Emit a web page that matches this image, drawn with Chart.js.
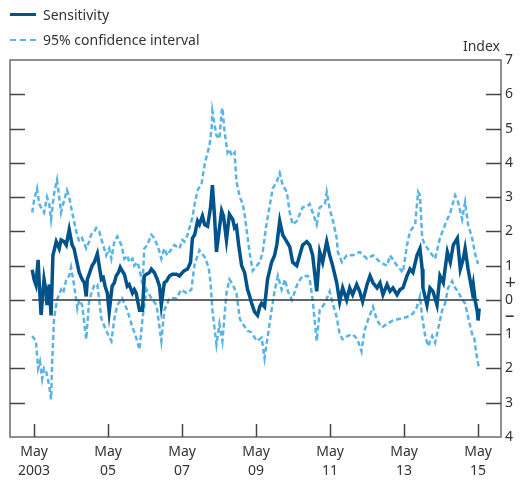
<!DOCTYPE html>
<html>
<head>
<meta charset="utf-8">
<script src="https://cdn.jsdelivr.net/npm/chart.js@4.4.1/dist/chart.umd.min.js"></script>
<style>
    body { margin: 0; background: #ffffff; }
    #wrap { position: relative; width: 520px; height: 480px; font-family: "Noto Sans", sans-serif; color: #333333; }
    .key { position: absolute; left: 10px; font-size: 14px; line-height: 18px; }
    .key span { display: inline-block; width: 26px; vertical-align: middle; margin-right: 7px; margin-top: -3px; }
    .solid { border-top: 3px solid #00538a; }
    .dash { border-top: 2px dashed #58b3e6; }
    #index { position: absolute; right: 20px; top: 36px; font-size: 14px; }
</style>
</head>
<body>
<div id="wrap">
    <canvas id="chart" width="520" height="480"></canvas>
    <div class="key" style="top:6px"><span class="solid"></span>Sensitivity</div>
    <div class="key" style="top:31px"><span class="dash"></span>95% confidence interval</div>
    <div id="index">Index</div>
</div>
<script>
// dates are decimal years, values are index points
const sensDates = [
    2003.28, 2003.33, 2003.38, 2003.44, 2003.47, 2003.52, 2003.60, 2003.66, 2003.68, 2003.74,
    2003.79, 2003.84, 2003.93, 2004.01, 2004.06, 2004.14, 2004.20, 2004.28, 2004.36, 2004.41,
    2004.47, 2004.55, 2004.63, 2004.69, 2004.74, 2004.77, 2004.82, 2004.90, 2004.96, 2005.04,
    2005.09, 2005.15, 2005.20, 2005.25, 2005.31, 2005.36, 2005.44, 2005.50, 2005.55, 2005.61,
    2005.66, 2005.71, 2005.77, 2005.85, 2005.90, 2005.99, 2006.04, 2006.09, 2006.18, 2006.26,
    2006.31, 2006.37, 2006.45, 2006.50, 2006.58, 2006.66, 2006.72, 2006.77, 2006.85, 2006.91,
    2006.99, 2007.07, 2007.18, 2007.26, 2007.34, 2007.39, 2007.48, 2007.56, 2007.61, 2007.67,
    2007.75, 2007.80, 2007.88, 2007.94, 2008.02, 2008.10, 2008.15, 2008.21, 2008.26, 2008.34,
    2008.40, 2008.45, 2008.53, 2008.61, 2008.70, 2008.75, 2008.80, 2008.86, 2008.94, 2009.02,
    2009.10, 2009.16, 2009.21, 2009.29, 2009.37, 2009.43, 2009.48, 2009.56, 2009.64, 2009.75,
    2009.83, 2009.89, 2009.97, 2010.05, 2010.16, 2010.24, 2010.32, 2010.43, 2010.51, 2010.59,
    2010.70, 2010.78, 2010.86, 2010.97, 2011.05, 2011.13, 2011.24, 2011.32, 2011.40, 2011.51,
    2011.59, 2011.67, 2011.78, 2011.86, 2011.94, 2012.05, 2012.13, 2012.21, 2012.33, 2012.41,
    2012.49, 2012.60, 2012.68, 2012.76, 2012.87, 2012.95, 2013.03, 2013.14, 2013.22, 2013.30,
    2013.41, 2013.49, 2013.57, 2013.68, 2013.76, 2013.82, 2013.84, 2013.95, 2014.03, 2014.11,
    2014.22, 2014.30, 2014.39, 2014.50, 2014.58, 2014.66, 2014.77, 2014.85, 2014.93, 2014.98,
    2015.06, 2015.17, 2015.20, 2015.25, 2015.31, 2015.33, 2015.36
];
const sensValues = [
    0.88, 0.6, 0.44, 1.17, 0.5, -0.44, 0.6, 0.2, -0.15, 0.45,
    -0.45, 1.3, 1.7, 1.5, 1.75, 1.7, 1.6, 2.05, 1.6, 1.5,
    1.2, 0.8, 0.6, 0.5, 0.1, 0.6, 0.75, 1.0, 1.1, 1.35,
    1.0, 0.6, 0.65, 0.4, 0.2, -0.35, 0.4, 0.5, 0.7, 0.8,
    0.95, 0.85, 0.75, 0.4, 0.45, 0.2, 0.3, 0.2, -0.3, -0.3,
    0.7, 0.75, 0.8, 0.9, 0.8, 0.6, 0.4, -0.15, 0.5, 0.55,
    0.7, 0.75, 0.75, 0.7, 0.8, 0.85, 0.9, 1.1, 1.8, 1.9,
    2.3, 2.2, 2.45, 2.2, 2.15, 2.7, 3.35, 2.4, 1.4, 2.1,
    2.6, 2.45, 1.75, 2.5, 2.35, 2.1, 2.15, 1.6, 1.0, 0.8,
    0.3, 0.1, -0.1, -0.35, -0.45, -0.2, -0.1, -0.2, 0.6, 1.1,
    1.3, 1.6, 2.3, 1.9, 1.7, 1.55, 1.1, 1.0, 1.3, 1.6,
    1.7, 1.6, 1.3, 0.25, 1.4, 1.1, 1.7, 1.3, 1.0, 0.5,
    -0.05, 0.35, 0.0, 0.35, 0.15, 0.45, 0.25, -0.05, 0.45, 0.7,
    0.5, 0.35, 0.5, 0.15, 0.45, 0.25, 0.35, 0.15, 0.3, 0.35,
    0.7, 0.9, 0.8, 1.3, 1.5, 0.9, 0.35, -0.15, 0.35, 0.25,
    -0.15, 0.7, 0.5, 1.4, 1.1, 1.6, 1.8, 0.9, 1.2, 1.5,
    0.9, 0.25, 0.45, 0.0, -0.35, -0.6, -0.25
];

const upperDates = [
    2003.28, 2003.33, 2003.41, 2003.47, 2003.52, 2003.60, 2003.68, 2003.74, 2003.79, 2003.87,
    2003.95, 2004.01, 2004.06, 2004.14, 2004.22, 2004.28, 2004.36, 2004.47, 2004.55, 2004.63,
    2004.74, 2004.82, 2004.87, 2004.96, 2005.01, 2005.09, 2005.17, 2005.28, 2005.36, 2005.42,
    2005.50, 2005.58, 2005.69, 2005.77, 2005.85, 2005.90, 2005.99, 2006.04, 2006.12, 2006.18,
    2006.26, 2006.31, 2006.39, 2006.50, 2006.58, 2006.66, 2006.72, 2006.77, 2006.85, 2006.93,
    2006.99, 2007.12, 2007.26, 2007.34, 2007.39, 2007.48, 2007.53, 2007.61, 2007.67, 2007.75,
    2007.86, 2007.94, 2008.02, 2008.07, 2008.13, 2008.15, 2008.21, 2008.26, 2008.34, 2008.40,
    2008.42, 2008.48, 2008.56, 2008.61, 2008.67, 2008.75, 2008.80, 2008.89, 2008.97, 2009.02,
    2009.08, 2009.16, 2009.24, 2009.35, 2009.43, 2009.51, 2009.61, 2009.70, 2009.78, 2009.89,
    2009.97, 2010.05, 2010.16, 2010.24, 2010.32, 2010.43, 2010.51, 2010.59, 2010.73, 2010.78,
    2010.86, 2010.97, 2011.05, 2011.19, 2011.24, 2011.32, 2011.40, 2011.51, 2011.54, 2011.65,
    2011.78, 2011.94, 2012.13, 2012.33, 2012.49, 2012.68, 2012.87, 2012.95, 2013.14, 2013.30,
    2013.41, 2013.49, 2013.63, 2013.71, 2013.76, 2013.82, 2013.90, 2014.03, 2014.17, 2014.30,
    2014.44, 2014.58, 2014.71, 2014.79, 2014.90, 2014.98, 2015.06, 2015.17, 2015.25, 2015.33
];
const upperValues = [
    2.55, 2.9, 3.25, 2.8, 2.7, 2.55, 3.0, 2.8, 2.35, 3.1,
    3.5, 3.0, 2.55, 2.9, 3.2, 3.0, 2.55, 2.0, 1.7, 1.8,
    1.5, 1.7, 1.9, 2.0, 2.1, 2.0, 1.7, 1.3, 1.5, 1.2,
    1.7, 1.85, 1.6, 1.2, 1.3, 1.1, 1.2, 1.0, 1.1, 0.9,
    0.45, 1.5, 1.6, 1.9, 1.8, 1.6, 1.4, 1.2, 1.5, 1.3,
    1.4, 1.6, 1.5, 1.75, 1.7, 1.9, 2.1, 2.4, 2.8, 3.2,
    3.4, 3.95, 4.3, 4.5, 5.0, 5.5, 5.1, 4.8, 4.7, 5.5,
    5.6, 4.9, 4.3, 4.4, 4.2, 4.3, 3.45, 3.0, 2.8, 2.5,
    2.0, 1.35, 0.85, 1.0, 1.1, 1.4, 2.2, 2.75, 3.25, 3.45,
    3.7, 3.35, 3.15, 2.55, 2.2, 2.3, 2.5, 2.7, 2.75, 2.8,
    2.55, 2.2, 2.7, 2.8, 3.15, 2.65, 2.35, 1.8, 1.4, 1.1,
    1.3, 1.3, 1.4, 1.2, 1.3, 1.1, 1.0, 1.3, 1.0, 0.8,
    1.6, 2.0, 2.2, 3.15, 3.05, 1.8, 1.6, 1.4, 1.2, 1.8,
    2.2, 2.55, 3.05, 2.85, 2.35, 2.85, 2.2, 1.8, 1.35, 1.05
];

const lowerDates = [
    2003.28, 2003.38, 2003.44, 2003.49, 2003.55, 2003.60, 2003.66, 2003.74, 2003.79, 2003.82,
    2003.87, 2003.95, 2004.06, 2004.12, 2004.20, 2004.28, 2004.33, 2004.41, 2004.50, 2004.55,
    2004.63, 2004.74, 2004.82, 2004.96, 2005.04, 2005.15, 2005.28, 2005.42, 2005.50, 2005.58,
    2005.71, 2005.85, 2005.99, 2006.09, 2006.18, 2006.26, 2006.37, 2006.50, 2006.64, 2006.77,
    2006.85, 2006.99, 2007.18, 2007.31, 2007.45, 2007.58, 2007.67, 2007.80, 2007.94, 2008.05,
    2008.10, 2008.15, 2008.26, 2008.34, 2008.42, 2008.53, 2008.61, 2008.70, 2008.80, 2008.89,
    2008.97, 2009.10, 2009.21, 2009.35, 2009.48, 2009.56, 2009.64, 2009.75, 2009.83, 2009.92,
    2010.02, 2010.11, 2010.19, 2010.30, 2010.38, 2010.46, 2010.59, 2010.73, 2010.78, 2010.86,
    2010.97, 2011.05, 2011.19, 2011.32, 2011.40, 2011.51, 2011.59, 2011.67, 2011.81, 2011.94,
    2012.07, 2012.18, 2012.26, 2012.35, 2012.49, 2012.60, 2012.73, 2012.87, 2013.03, 2013.22,
    2013.41, 2013.57, 2013.68, 2013.76, 2013.82, 2013.90, 2013.98, 2014.09, 2014.17, 2014.25,
    2014.36, 2014.44, 2014.52, 2014.63, 2014.71, 2014.79, 2014.90, 2014.98, 2015.06, 2015.17,
    2015.22, 2015.28, 2015.33, 2015.36
];
const lowerValues = [
    -1.05, -1.2, -2.0, -1.8, -2.3, -2.0, -2.1, -2.5, -2.9, -1.8,
    -0.55, 0.0, 0.3, 0.2, 0.6, 0.7, 0.95, 0.45, -0.25, 0.0,
    -0.15, -1.15, 0.0, 0.45, 0.45, -0.55, -0.9, -1.2, -0.55, -0.15,
    0.05, -0.3, -0.8, -1.1, -1.45, -0.55, 0.3, 0.05, -0.15, -1.2,
    -0.3, 0.05, 0.05, 0.3, 0.2, 0.3, 1.05, 1.45, 1.25, 0.95,
    0.5, -0.3, -1.3, -0.7, -1.2, 0.2, 0.6, 0.45, 0.2, -0.55,
    -0.7, -0.9, -0.95, -1.2, -1.1, -1.7, -1.1, -0.3, 0.25, 0.7,
    0.3, 0.6, 0.25, 0.0, 0.25, 0.5, 0.7, 0.7, 0.6, 0.0,
    -1.2, -0.3, -0.1, 0.25, -0.1, -0.5, -1.0, -1.15, -1.05, -1.0,
    -1.15, -1.5, -0.9, -0.6, -0.2, -0.6, -0.8, -0.7, -0.6, -0.55,
    -0.5, -0.4, -0.2, 0.1, -0.5, -1.05, -1.35, -1.05, -1.25, -0.85,
    -0.3, -0.1, 0.35, 0.55, 0.35, 0.25, 0.0, -0.1, -0.5, -1.0,
    -1.05, -1.55, -1.85, -2.0
];

const xTicks = [2003.33, 2005.33, 2007.33, 2009.33, 2011.33, 2013.33, 2015.33];
const yTicks = [-4, -3, -2, -1, 0, 1, 2, 3, 4, 5, 6, 7];
const PLUS_AT = 0.47;
const MINUS_AT = -0.5;

const DARK_BLUE = "#00538a";
const LIGHT_BLUE = "#58b3e6";
const INK = "#333333";
const FRAME = "#6b6b6b";

function toPoints(dates, values) {
    return dates.map((d, i) => ({ x: d, y: values[i] }));
}

// frame and inward tick marks
const framePlugin = {
    id: "frame",
    afterDraw(chart) {
        const ctx = chart.ctx;
        const a = chart.chartArea;
        const xs = chart.scales.x;
        const ys = chart.scales.y;
        ctx.save();
        ctx.strokeStyle = FRAME;
        ctx.lineWidth = 1.5;
        ctx.strokeRect(a.left, a.top, a.right - a.left, a.bottom - a.top);
        ctx.strokeStyle = "#444444";
        ctx.beginPath();
        for (let v = -3; v <= 6; v++) {
            const y = Math.round(ys.getPixelForValue(v)) + 0.5;
            ctx.moveTo(a.left, y);
            ctx.lineTo(a.left + 15, y);
            ctx.moveTo(a.right, y);
            ctx.lineTo(a.right - 15, y);
        }
        xTicks.forEach((t) => {
            const x = Math.round(xs.getPixelForValue(t)) + 0.5;
            ctx.moveTo(x, a.bottom);
            ctx.lineTo(x, a.bottom - 13);
        });
        ctx.stroke();
        ctx.restore();
    },
};

const ctx = document.getElementById("chart");
new Chart(ctx, {
    type: "line",
    data: {
        datasets: [
            {
                label: "Sensitivity",
                data: toPoints(sensDates, sensValues),
                borderColor: DARK_BLUE,
                borderWidth: 3.5,
                pointRadius: 0,
                order: 0,
            },
            {
                label: "zero",
                data: [
                    { x: sensDates[0], y: 0 },
                    { x: sensDates[sensDates.length - 1], y: 0 },
                ],
                borderColor: INK,
                borderWidth: 1.5,
                pointRadius: 0,
                order: 1,
            },
            {
                label: "95% confidence interval",
                data: toPoints(upperDates, upperValues),
                borderColor: LIGHT_BLUE,
                borderWidth: 2.5,
                borderDash: [5, 3],
                pointRadius: 0,
                order: 2,
            },
            {
                label: "95% confidence interval (lower)",
                data: toPoints(lowerDates, lowerValues),
                borderColor: LIGHT_BLUE,
                borderWidth: 2.5,
                borderDash: [5, 3],
                pointRadius: 0,
                order: 2,
            },
        ],
    },
    options: {
        responsive: false,
        animation: false,
        events: [],
        layout: { padding: { top: 60, left: 10, right: 0, bottom: 0 } },
        plugins: {
            legend: { display: false },
            tooltip: { enabled: false },
        },
        scales: {
            x: {
                type: "linear",
                min: 2002.68,
                max: 2015.95,
                afterBuildTicks: (scale) => {
                    scale.ticks = xTicks.map((t) => ({ value: t }));
                },
                afterFit: (scale) => {
                    scale.height = 43;
                },
                grid: { display: false, drawTicks: false },
                border: { display: false },
                ticks: {
                    autoSkip: false,
                    maxRotation: 0,
                    padding: 5,
                    color: INK,
                    font: { family: "Noto Sans", size: 14, lineHeight: 1.4 },
                    callback: (value) => {
                        const yr = Math.round(value - 0.33);
                        return ["May", yr === 2003 ? "2003" : String(yr % 100).padStart(2, "0")];
                    },
                },
            },
            y: {
                position: "right",
                min: -4,
                max: 7,
                afterBuildTicks: (scale) => {
                    const t = yTicks.map((v) => ({ value: v }));
                    t.push({ value: PLUS_AT }, { value: MINUS_AT });
                    t.sort((p, q) => p.value - q.value);
                    scale.ticks = t;
                },
                afterFit: (scale) => {
                    scale.width = 19;
                },
                grid: { display: false, drawTicks: false },
                border: { display: false },
                ticks: {
                    autoSkip: false,
                    padding: 4,
                    color: INK,
                    font: (c) => {
                        const v = c.tick ? c.tick.value : 0;
                        const sign = v === PLUS_AT || v === MINUS_AT;
                        return { family: "Noto Sans", size: sign ? 19 : 14 };
                    },
                    callback: (value) => {
                        if (value === PLUS_AT) return "+";
                        if (value === MINUS_AT) return "\u2013";
                        return String(Math.abs(value));
                    },
                },
            },
        },
    },
    plugins: [framePlugin],
});
</script>
</body>
</html>
